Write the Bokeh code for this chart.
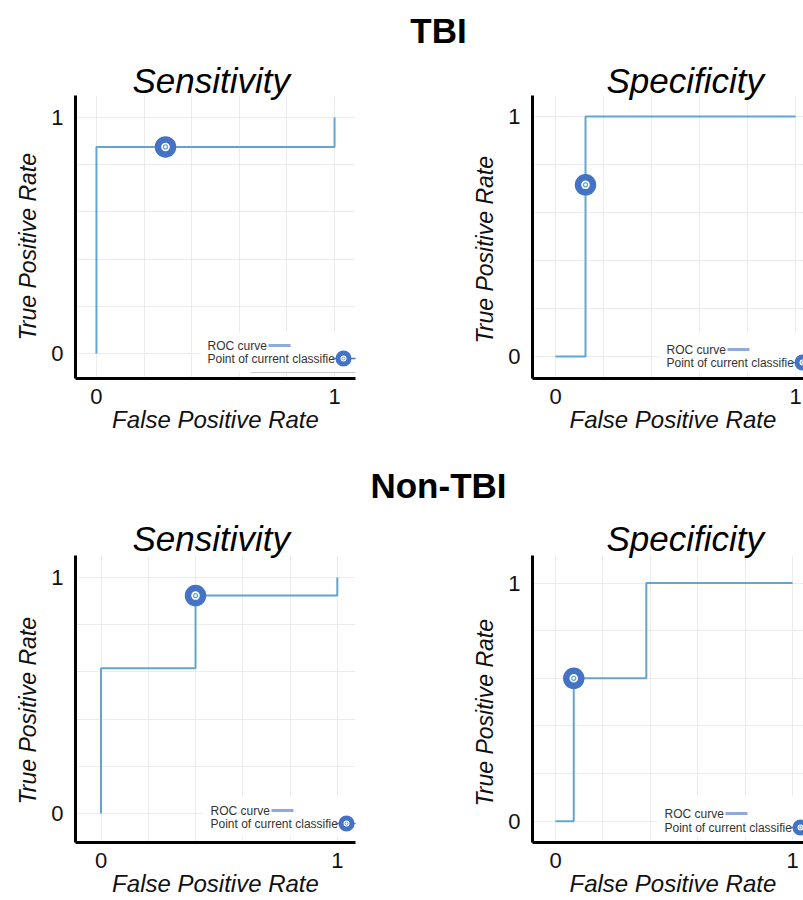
from bokeh.plotting import figure
from bokeh.layouts import column, row
from bokeh.models import FixedTicker, Title, Range1d
from bokeh.embed import file_html
from bokeh.resources import INLINE
from bokeh.core.properties import value

FONT = "Liberation Sans"

# ---------------- data ----------------
group_titles = ["TBI", "Non-TBI"]
panel_titles = ["Sensitivity", "Specificity"]
x_label = "False Positive Rate"
y_label = "True Positive Rate"
tick_values = [0, 1]
grid_values = [0, 0.2, 0.4, 0.6, 0.8, 1.0]
legend_labels = ["ROC curve", "Point of current classifie"]

tbi_sens_fpr = [0, 0, 1, 1]
tbi_sens_tpr = [0, 0.875, 0.875, 1]
tbi_sens_point = [0.29, 0.875]

tbi_spec_fpr = [0, 0.125, 0.125, 1]
tbi_spec_tpr = [0, 0, 1, 1]
tbi_spec_point = [0.125, 0.715]

non_sens_fpr = [0, 0, 0.40, 0.40, 1, 1]
non_sens_tpr = [0, 0.615, 0.615, 0.923, 0.923, 1]
non_sens_point = [0.40, 0.923]

non_spec_fpr = [0, 0.077, 0.077, 0.383, 0.383, 1]
non_spec_tpr = [0, 0, 0.6, 0.6, 1, 1]
non_spec_point = [0.077, 0.6]

# ---------------- style ----------------
ROC_COLOR = "#62a6d0"
POINT_COLOR = "#4472c4"
LEGEND_LINE = "#8eaadf"
GRID_COLOR = "#ececec"

LEFT_W, RIGHT_W = 460, 343
TOP_H, BOT_H = 385, 395


def make_panel(fpr, tpr, pt, title, width, height, bl, br, bt, bb, xr, yr,
               title_off, title_standoff, ylab_off, xlab_align, xlab_off, leg,
               grey_line=False):
    fw = width - bl - br
    fh = height - bt - bb
    p = figure(width=width, height=height, x_range=Range1d(*xr), y_range=Range1d(*yr),
               output_backend="svg", toolbar_location=None,
               min_border_left=bl, min_border_right=br, min_border_top=bt,
               min_border_bottom=bb, outline_line_color=None,
               background_fill_color="white", border_fill_color="white")
    sx = fw / (xr[1] - xr[0])
    sy = fh / (yr[1] - yr[0])

    def px(dx):
        return xr[0] + dx / sx

    def py(dy):
        return yr[0] + dy / sy

    for ax in (p.xaxis, p.yaxis):
        ax.ticker = FixedTicker(ticks=tick_values)
        ax.axis_line_width = 3
        ax.axis_line_color = "black"
        ax.major_tick_line_color = None
        ax.minor_tick_line_color = None
        ax.major_tick_out = 0
        ax.major_tick_in = 0
        ax.minor_tick_out = 0
        ax.minor_tick_in = 0
        ax.major_label_text_font = FONT
        ax.major_label_text_font_size = "22px"
        ax.major_label_text_color = "#111111"
    p.yaxis.major_label_standoff = 12
    p.xaxis.major_label_standoff = 10

    for g in (p.xgrid, p.ygrid):
        g.ticker = FixedTicker(ticks=grid_values)
        g.grid_line_color = GRID_COLOR
        g.grid_line_width = 1

    # legend background box
    tx, d1, d2 = leg
    p.quad(left=[px(tx - 7)], right=[xr[1]], bottom=[py(6)], top=[py(46)],
           fill_color="white", line_color=None)
    if grey_line:
        p.segment(x0=[px(tx + 43)], y0=[py(6)], x1=[xr[1]], y1=[py(6)],
                  line_color="#c8c8c8", line_width=1)

    # ROC curve
    p.line(fpr, tpr, line_color=ROC_COLOR, line_width=2)
    # current classifier point
    p.scatter([pt[0]], [pt[1]], size=15, fill_color="white", line_color=POINT_COLOR, line_width=6.5)
    p.scatter([pt[0]], [pt[1]], size=4, fill_color=None, line_color=ROC_COLOR, line_width=1.2)

    # legend
    p.text(x=[px(tx), px(tx)], y=[py(d1), py(d2)], text=legend_labels,
           text_font=value(FONT), text_font_size="12px", text_baseline="middle",
           text_align="left", text_color="#333333")
    p.segment(x0=[px(tx + 61)], y0=[py(d1)], x1=[px(tx + 83)], y1=[py(d1)],
              line_color=LEGEND_LINE, line_width=3)
    p.segment(x0=[px(tx + 125)], y0=[py(d2)], x1=[px(tx + 150)], y1=[py(d2)],
              line_color=POINT_COLOR, line_width=1.5)
    p.scatter([px(tx + 136)], [py(d2)], size=11, fill_color="white",
              line_color=POINT_COLOR, line_width=5)
    p.scatter([px(tx + 136)], [py(d2)], size=3, fill_color=None,
              line_color=ROC_COLOR, line_width=1)

    # titles and axis labels
    p.add_layout(Title(text=title, align="left", offset=title_off, standoff=title_standoff,
                       text_font=FONT, text_font_size="35px", text_font_style="italic",
                       text_color="black", vertical_align="bottom"), "above")
    p.add_layout(Title(text=y_label, align="left", offset=ylab_off, standoff=15,
                       text_font=FONT, text_font_size="23px", text_font_style="italic",
                       text_color="#111111", vertical_align="bottom"), "left")
    p.add_layout(Title(text=x_label, align=xlab_align, offset=xlab_off, standoff=-2,
                       text_font=FONT, text_font_size="24px", text_font_style="italic",
                       text_color="#111111", vertical_align="top"), "below")
    return p


def header(text, height, ypos):
    h = figure(width=LEFT_W + RIGHT_W, height=height, x_range=Range1d(0, LEFT_W + RIGHT_W),
               y_range=Range1d(0, height), x_axis_type=None, y_axis_type=None,
               min_border=0, outline_line_color=None, toolbar_location=None,
               output_backend="svg")
    h.text(x=[438], y=[ypos], text=[text], text_font=value(FONT), text_font_size="35px",
           text_font_style="bold", text_align="center", text_baseline="middle",
           text_color="black")
    return h


h1 = header(group_titles[0], 55, 25)
tl = make_panel(tbi_sens_fpr, tbi_sens_tpr, tbi_sens_point, panel_titles[0],
                LEFT_W, TOP_H, 75, 105, 40, 62, (-0.088, 1.088), (-0.106, 1.093),
                57, -8, 38, "center", 0, (132, 33, 20), grey_line=True)
tr = make_panel(tbi_spec_fpr, tbi_spec_tpr, tbi_spec_point, panel_titles[1],
                RIGHT_W, TOP_H, 72, 0, 40, 62, (-0.0958, 1.033), (-0.092, 1.0875),
                74, -8, 35, "left", 37, (134, 29, 16))
h2 = header(group_titles[1], 65, 20)
bl = make_panel(non_sens_fpr, non_sens_tpr, non_sens_point, panel_titles[0],
                LEFT_W, BOT_H, 75, 105, 50, 58, (-0.108, 1.077), (-0.123, 1.093),
                57, -4, 38, "center", 0, (135, 32, 19))
br = make_panel(non_spec_fpr, non_spec_tpr, non_spec_point, panel_titles[1],
                RIGHT_W, BOT_H, 72, 0, 50, 58, (-0.097, 1.046), (-0.0895, 1.116),
                74, -4, 36, "left", 37, (132, 29, 15))

layout = column(h1, row(tl, tr), h2, row(bl, br))
open("out.html", "w").write(file_html(layout, INLINE))
